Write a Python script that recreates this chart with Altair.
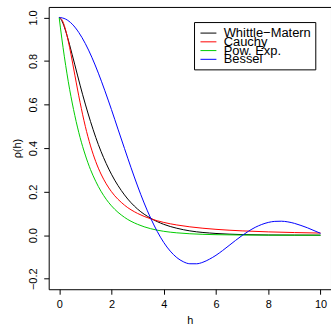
import altair as alt
import pandas as pd

# Series
series = ["Whittle−Matern", "Cauchy", "Pow. Exp.", "Bessel"]
colors = ["#000000", "#FF0000", "#00CD00", "#0000FF"]

h_grid = [0, 0.1, 0.2, 0.3, 0.4, 0.5, 0.6, 0.8, 1.0, 1.2, 1.4, 1.6, 1.8, 2.0,
          2.5, 3.0, 3.5, 4.0, 4.5, 5.0, 6.0, 7.0, 8.0, 9.0, 10.0]
whittle_matern = [1.0, 0.985, 0.955, 0.917, 0.874, 0.828, 0.782, 0.689, 0.602, 0.522,
                  0.449, 0.385, 0.329, 0.280, 0.185, 0.120, 0.078, 0.050, 0.032, 0.020,
                  0.008, 0.003, 0.001, 0.0005, 0.0002]
cauchy = [1.0, 0.990, 0.962, 0.917, 0.862, 0.800, 0.735, 0.610, 0.500, 0.410,
          0.338, 0.281, 0.236, 0.200, 0.138, 0.100, 0.0755, 0.0588, 0.0471, 0.0385,
          0.027, 0.020, 0.0154, 0.0122, 0.0099]
pow_exp = [1.0, 0.905, 0.819, 0.741, 0.670, 0.607, 0.549, 0.449, 0.368, 0.301,
           0.247, 0.202, 0.165, 0.135, 0.082, 0.050, 0.030, 0.018, 0.011, 0.0067,
           0.0025, 0.0009, 0.0003, 0.0001, 0.00005]

h_bessel = [0, 0.25, 0.5, 0.75, 1.0, 1.25, 1.5, 1.75, 2.0, 2.25, 2.5, 2.75, 3.0, 3.25,
            3.5, 3.75, 4.0, 4.25, 4.5, 4.75, 5.0, 5.25, 5.5, 5.75, 6.0, 6.25, 6.5,
            6.75, 7.0, 7.25, 7.5, 7.75, 8.0, 8.25, 8.5, 8.75, 9.0, 9.25, 9.5, 9.75, 10.0]
bessel = [1.0, 0.992, 0.969, 0.931, 0.880, 0.817, 0.744, 0.663, 0.577, 0.487, 0.398,
          0.310, 0.226, 0.148, 0.0785, 0.0178, -0.033, -0.073, -0.1027, -0.1217,
          -0.131, -0.1312, -0.124, -0.110, -0.0922, -0.0706, -0.0473, -0.0237,
          -0.0013, 0.0188, 0.0361, 0.0493, 0.0587, 0.0635, 0.0643, 0.0612, 0.0545,
          0.0449, 0.0340, 0.0213, 0.0087]

x_ticks = [0, 2, 4, 6, 8, 10]
y_ticks = [-0.2, 0.0, 0.2, 0.4, 0.6, 0.8, 1.0]

rows = []
for order, (name, hs, vs) in enumerate([
    (series[0], h_grid, whittle_matern),
    (series[1], h_grid, cauchy),
    (series[2], h_grid, pow_exp),
    (series[3], h_bessel, bessel),
]):
    for h, v in zip(hs, vs):
        rows.append({"h": h, "rho": v, "model": name, "ord": order})
df = pd.DataFrame(rows)
leg = pd.DataFrame({"model": series})
box_df = pd.DataFrame({"k": [0]})

FONT = "Liberation Sans"
color_enc = alt.Color("model:N", scale=alt.Scale(domain=series, range=colors), legend=None)

lines = alt.Chart(df).mark_line(strokeWidth=1, interpolate="monotone", clip=True).encode(
    x=alt.X("h:Q",
            scale=alt.Scale(domain=[-0.4, 10.4], nice=False, zero=False),
            axis=alt.Axis(values=x_ticks, title="h", format="d", grid=False, domain=False,
                          tickSize=5, tickColor="black", labelPadding=4,
                          labelFontSize=11, labelFont=FONT, labelColor="black",
                          titleFontSize=11, titleFont=FONT, titleFontWeight="normal",
                          titleColor="black", titlePadding=5)),
    y=alt.Y("rho:Q",
            scale=alt.Scale(domain=[-0.248, 1.048], nice=False, zero=False),
            axis=alt.Axis(values=y_ticks, title="ρ(h)", format=".1f", grid=False, domain=False,
                          tickSize=5, tickColor="black", labelPadding=5, labelAngle=270,
                          labelAlign="center", labelBaseline="bottom",
                          labelFontSize=11, labelFont=FONT, labelColor="black",
                          titleFontSize=11, titleFont=FONT, titleFontWeight="normal",
                          titleColor="black", titlePadding=5)),
    color=color_enc,
    order=alt.Order("ord:Q"),
)

# legend (R-style box, top right)
leg_y = alt.Y("model:N", sort=series,
              scale=alt.Scale(type="point", range=[26.3, 52.7], padding=0), axis=None)

box = alt.Chart(box_df).mark_rect(fill="white", stroke="black", strokeWidth=1).encode(
    x=alt.value(146.7), x2=alt.value(268.7), y=alt.value(15.7), y2=alt.value(63.3))

keys = alt.Chart(leg).mark_rule(strokeWidth=1).encode(
    x=alt.value(152.7), x2=alt.value(168.7), y=leg_y, color=color_enc)

labels = alt.Chart(leg).mark_text(align="left", baseline="middle", fontSize=13,
                                  font=FONT, color="black").encode(
    x=alt.value(176), y=leg_y, text="model:N")

chart = alt.layer(lines, box, keys, labels).resolve_scale(y="independent").properties(
    width=284, height=284,
    autosize=alt.AutoSizeParams(type="none"),
    padding={"left": 49, "top": 6, "right": 0, "bottom": 36},
).configure_view(stroke="black", strokeWidth=1)

chart.save("out.html", embed_options={"renderer": "svg", "actions": False})
